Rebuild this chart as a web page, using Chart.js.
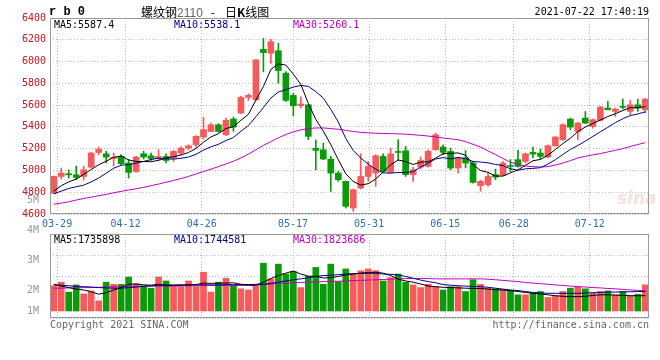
<!DOCTYPE html>
<html>
<head>
<meta charset="utf-8">
<script src="https://cdn.jsdelivr.net/npm/chart.js@4.4.0/dist/chart.umd.min.js"></script>
<style>
  body { margin: 0; background: #fff; }
  #wrap { position: relative; width: 660px; height: 360px; overflow: hidden; background: #fff; }
  canvas { position: absolute; left: 0; }
  .t { position: absolute; white-space: nowrap; font: 10px 'DejaVu Sans Mono', monospace; line-height: 10px; }
</style>
</head>
<body>
<div id="wrap">
  <div class="t" style="left:617px;top:190px;font:italic bold 17px 'DejaVu Sans',sans-serif;line-height:17px;color:rgba(225,150,150,0.3)">sina</div>
  <canvas id="kChart" width="660" height="232" style="top:0"></canvas>
  <canvas id="volChart" width="660" height="170" style="top:190px"></canvas>

  <div class="t" style="left:49px;top:6px;font:bold 12px 'Liberation Mono',monospace;line-height:12px">r b 0</div>
  <div class="t" style="left:141px;top:5px;font:12px 'Noto Sans CJK SC',sans-serif;line-height:13px">螺纹钢<span style="color:#666;font-family:'Liberation Sans',sans-serif">2110</span><span style="margin:0 10px 0 8px">-</span>日<b>K</b>线图</div>
  <div class="t" style="right:11px;top:7px">2021-07-22 17:40:19</div>

  <div class="t" style="left:54px;top:20px;color:#000">MA5:5587.4</div>
  <div class="t" style="left:174px;top:20px;color:#000090">MA10:5538.1</div>
  <div class="t" style="left:293px;top:20px;color:#c000c0">MA30:5260.1</div>

  <div class="t" style="left:54px;top:235px;color:#000">MA5:1735898</div>
  <div class="t" style="left:174px;top:235px;color:#000090">MA10:1744581</div>
  <div class="t" style="left:293px;top:235px;color:#c000c0">MA30:1823686</div>

  <div class="t" style="left:50px;top:320px;color:#666">Copyright 2021 SINA.COM</div>
  <div class="t" style="right:11px;top:320px;color:#666">http://finance.sina.com.cn</div>
</div>

<script>
// 交易日 (rb0, 日K)
const days = [
  '03-26','03-29','03-30','03-31','04-01','04-02','04-06','04-07','04-08','04-09',
  '04-12','04-13','04-14','04-15','04-16','04-19','04-20','04-21','04-22','04-23',
  '04-26','04-27','04-28','04-29','04-30','05-06','05-07','05-10','05-11','05-12',
  '05-13','05-14','05-17','05-18','05-19','05-20','05-21','05-24','05-25','05-26',
  '05-27','05-28','05-31','06-01','06-02','06-03','06-04','06-07','06-08','06-09',
  '06-10','06-11','06-15','06-16','06-17','06-18','06-21','06-22','06-23','06-24',
  '06-25','06-28','06-29','06-30','07-01','07-02','07-05','07-06','07-07','07-08',
  '07-09','07-12','07-13','07-14','07-15','07-16','07-19','07-20','07-21','07-22'
];
const gridDays = ['03-29', '04-12', '04-26', '05-17', '05-31', '06-15', '06-28', '07-12'];

const open = [
  4790,4945,4970,4960,4945,5031,5165,5153,5110,5129,
  5068,4990,5153,5135,5110,5129,5114,5160,5205,5236,
  5307,5358,5420,5328,5472,5527,5671,5650,6113,6076,
  6100,5893,5689,5595,5603,5204,5190,5104,4976,4900,
  4655,4838,4945,4976,5129,4982,5170,5181,4961,5031,
  5037,5190,5215,5175,5022,5114,5068,4860,4869,4961,
  4955,5045,5099,5083,5166,5160,5123,5227,5282,5472,
  5358,5481,5404,5460,5573,5542,5585,5542,5603,5557
];
const high = [
  4950,5022,5006,5040,5040,5165,5215,5175,5160,5145,
  5099,5129,5178,5160,5190,5153,5184,5220,5236,5320,
  5487,5435,5430,5481,5490,5680,5704,6020,6213,6205,
  6168,5909,5710,5675,5603,5280,5251,5129,4991,4900,
  4829,5153,5083,5144,5153,5205,5282,5221,5031,5123,
  5190,5343,5236,5205,5123,5184,5083,4909,4976,5013,
  5083,5100,5184,5160,5215,5196,5236,5313,5429,5481,
  5441,5542,5472,5588,5634,5573,5655,5643,5655,5664
];
const low = [
  4785,4921,4930,4915,4910,5022,5144,5068,5040,5053,
  4930,4982,5105,5092,5092,5068,5083,5145,5190,5215,
  5288,5355,5350,5319,5358,5521,5643,5640,5905,5984,
  5800,5634,5502,5575,5282,5005,5098,4808,4900,4655,
  4624,4829,4900,4854,4982,4976,5092,4945,4900,5016,
  5031,5184,5144,5007,4976,5022,4884,4808,4854,4915,
  4951,4990,5031,5068,5114,5105,5117,5221,5276,5374,
  5282,5429,5389,5454,5557,5496,5564,5512,5542,5527
];
const close = [
  4945,4976,4960,4936,5006,5160,5196,5123,5120,5062,
  4982,5123,5123,5110,5128,5092,5175,5205,5227,5313,
  5374,5420,5358,5460,5398,5671,5690,6015,6082,6183,
  5917,5643,5594,5610,5313,5184,5105,4976,4915,4670,
  4823,4945,5037,5135,4991,5153,5165,4961,5007,5092,
  5175,5328,5166,5022,5114,5068,4890,4900,4945,4939,
  5068,5037,5037,5153,5150,5129,5227,5307,5420,5398,
  5435,5435,5466,5582,5557,5564,5580,5603,5573,5655
];

// 均线
const ma5 = [
  4810,4860,4895,4920,4965,5008,5052,5084,5121,5132,
  5097,5082,5082,5080,5093,5115,5126,5142,5165,5202,
  5259,5308,5338,5385,5402,5461,5515,5647,5771,5928,
  5978,5968,5884,5790,5616,5469,5361,5238,5099,4970,
  4898,4866,4878,4922,4986,5052,5096,5081,5055,5076,
  5080,5113,5154,5157,5161,5140,5052,4999,4983,4948,
  4948,4978,5005,5047,5089,5101,5139,5193,5247,5296,
  5357,5399,5431,5463,5495,5521,5550,5577,5575,5587
];
const ma10 = [
  4785,4810,4835,4850,4865,4895,4930,4975,5020,5048,
  5053,5067,5083,5100,5113,5106,5104,5112,5123,5148,
  5187,5217,5240,5275,5302,5360,5412,5493,5578,5665,
  5720,5742,5766,5781,5772,5724,5665,5561,5445,5293,
  5184,5114,5058,5011,4978,4975,4981,4980,4989,5031,
  5066,5105,5118,5106,5119,5110,5083,5077,5070,5055,
  5044,5015,5002,5015,5019,5025,5059,5099,5147,5193,
  5229,5269,5312,5355,5396,5439,5475,5504,5519,5538
];
const ma30 = [
  4690,4700,4712,4728,4742,4755,4768,4780,4795,4808,
  4820,4832,4845,4860,4875,4892,4908,4925,4945,4968,
  4990,5012,5035,5060,5085,5115,5150,5190,5230,5265,
  5300,5330,5355,5372,5385,5390,5390,5385,5378,5368,
  5358,5350,5345,5342,5340,5338,5336,5333,5328,5322,
  5316,5308,5298,5290,5282,5265,5240,5215,5180,5145,
  5110,5075,5055,5040,5035,5032,5035,5050,5068,5090,
  5115,5130,5143,5155,5170,5185,5200,5220,5238,5255
];

// 成交量
const volume = [
  2160000,2280000,1950000,2190000,1890000,1990000,1660000,2280000,2210000,2210000,
  2450000,2230000,2160000,2080000,2450000,2320000,2130000,2130000,2320000,2130000,
  2610000,1950000,2280000,2410000,2170000,2060000,2020000,2160000,2910000,2390000,
  2880000,2550000,2630000,2100000,2470000,2770000,2210000,2880000,2300000,2720000,
  2550000,2660000,2720000,2660000,2320000,2430000,2550000,2280000,2190000,2100000,
  2210000,2130000,2020000,2130000,2130000,1970000,2360000,2210000,2080000,2060000,
  2020000,2000000,1860000,1860000,1910000,1970000,1770000,1830000,1970000,2080000,
  2130000,2060000,1910000,1970000,1990000,1860000,1970000,1830000,1880000,2190000
];
const volMa5 = [
  2210000,2150000,2100000,2050000,2020000,1960000,1880000,1930000,2020000,2100000,
  2210000,2220000,2190000,2180000,2210000,2170000,2170000,2180000,2190000,2200000,
  2250000,2240000,2250000,2250000,2260000,2210000,2190000,2180000,2280000,2400000,
  2500000,2580000,2650000,2550000,2480000,2470000,2420000,2430000,2470000,2520000,
  2550000,2580000,2600000,2610000,2580000,2500000,2380000,2320000,2280000,2220000,
  2150000,2130000,2110000,2100000,2090000,2080000,2070000,2070000,2050000,2030000,
  2020000,2000000,1970000,1940000,1910000,1890000,1860000,1830000,1810000,1800000,
  1800000,1810000,1840000,1860000,1860000,1850000,1840000,1830000,1830000,1830000
];
const volMa10 = [
  2190000,2180000,2160000,2140000,2130000,2120000,2100000,2090000,2080000,2080000,
  2100000,2120000,2140000,2160000,2170000,2190000,2190000,2190000,2190000,2190000,
  2190000,2190000,2190000,2200000,2200000,2200000,2200000,2210000,2210000,2240000,
  2280000,2320000,2360000,2390000,2430000,2470000,2500000,2510000,2530000,2550000,
  2560000,2570000,2580000,2570000,2550000,2540000,2520000,2470000,2410000,2350000,
  2300000,2260000,2200000,2180000,2160000,2150000,2140000,2130000,2110000,2080000,
  2050000,2020000,2000000,1970000,1940000,1920000,1910000,1910000,1910000,1910000,
  1910000,1920000,1930000,1940000,1950000,1950000,1960000,1960000,1970000,1970000
];
const volMa30 = [
  2080000,2080000,2090000,2090000,2100000,2100000,2110000,2120000,2130000,2130000,
  2140000,2140000,2140000,2150000,2150000,2150000,2150000,2160000,2160000,2160000,
  2170000,2170000,2170000,2170000,2170000,2170000,2170000,2180000,2200000,2220000,
  2240000,2250000,2260000,2270000,2280000,2290000,2300000,2310000,2310000,2320000,
  2330000,2340000,2350000,2360000,2370000,2380000,2390000,2400000,2400000,2400000,
  2400000,2390000,2390000,2390000,2390000,2390000,2390000,2390000,2380000,2360000,
  2340000,2320000,2300000,2270000,2250000,2230000,2210000,2190000,2170000,2150000,
  2130000,2120000,2100000,2090000,2070000,2060000,2040000,2020000,2010000,1990000
];
const volTickLabels = [5000000, 4000000, 3000000, 2000000, 1000000];

// 颜色
const UP = '#f65a5a';
const DOWN = '#0a9a0a';
const GRID = '#b8b8b8';
const MONO = { family: "'DejaVu Sans Mono', monospace", size: 10 };

// volume panel: 30px per million, bars stand on VOL_BASE
const VOL_MIN = 1090000, VOL_MAX = 3880000, VOL_BASE = 1323000;

const candleColors = close.map((c, i) => c >= open[i] ? UP : DOWN);
const gridIdx = gridDays.map(d => days.indexOf(d));
// sina spaces its date grid a bit wider than the bars
const gridPos = gridIdx.map(i => 0.45 + (i - 1) * 1.0163);

const framePlugin = {
  id: 'frame',
  afterDatasetsDraw(chart) {
    const a = chart.chartArea, ctx = chart.ctx;
    ctx.save();
    ctx.strokeStyle = '#9a9a9a';
    ctx.lineWidth = 1;
    ctx.strokeRect(a.left + 0.5, a.top + 0.5, a.right - a.left - 1, a.bottom - a.top - 1);
    ctx.restore();
  }
};

function xAxis(showLabels) {
  return {
    type: 'linear',
    min: -0.5,
    max: days.length - 0.5,
    offset: false,
    afterBuildTicks: s => { s.ticks = gridPos.map(v => ({ value: v })); },
    grid: { color: GRID, drawTicks: false, offset: false },
    border: { display: false, dash: [1, 2] },
    ticks: {
      display: showLabels, color: '#2a6fb3', font: MONO, padding: 4,
      maxRotation: 0, autoSkip: false,
      callback: (v, i) => gridDays[i]
    },
    afterFit: s => { s.height = showLabels ? 18 : 0; }
  };
}

function maLine(values, color) {
  return {
    type: 'line',
    data: values.map((v, i) => ({ x: i, y: v })),
    borderColor: color,
    borderWidth: 1,
    pointRadius: 0,
    tension: 0,
    order: 1
  };
}

new Chart(document.getElementById('kChart'), {
  type: 'bar',
  data: {
    datasets: [
      {
        // 影线
        data: low.map((l, i) => ({ x: i, y: [l, high[i]] })),
        backgroundColor: candleColors,
        barThickness: 1,
        grouped: false,
        order: 3
      },
      {
        // 实体
        data: open.map((o, i) => ({ x: i, y: [o, close[i]] })),
        backgroundColor: candleColors,
        barThickness: 6,
        minBarLength: 1,
        grouped: false,
        order: 2
      },
      maLine(ma5, '#000000'),
      maLine(ma10, '#000090'),
      maLine(ma30, '#c000c0')
    ]
  },
  options: {
    responsive: false,
    animation: false,
    layout: { padding: { top: 18, right: 11, left: 0, bottom: 0 } },
    plugins: { legend: { display: false }, tooltip: { enabled: false } },
    scales: {
      x: xAxis(true),
      y: {
        min: 4600,
        max: 6400,
        ticks: { stepSize: 200, color: '#c0161c', font: MONO, padding: 4, callback: v => String(v) },
        grid: { color: GRID, drawTicks: false },
        border: { display: false, dash: [1, 2] },
        afterFit: s => { s.width = 50; }
      }
    }
  },
  plugins: [framePlugin]
});

new Chart(document.getElementById('volChart'), {
  type: 'bar',
  data: {
    datasets: [
      {
        data: volume.map((v, i) => ({ x: i, y: v })),
        backgroundColor: candleColors,
        base: VOL_BASE,
        barThickness: 6,
        order: 2
      },
      maLine(volMa5, '#000000'),
      maLine(volMa10, '#000090'),
      maLine(volMa30, '#c000c0')
    ]
  },
  options: {
    responsive: false,
    animation: false,
    layout: { padding: { top: 44, right: 11, left: 0, bottom: 42 } },
    plugins: { legend: { display: false }, tooltip: { enabled: false } },
    scales: {
      x: xAxis(false),
      y: {
        position: 'right',
        min: VOL_MIN,
        max: VOL_MAX,
        // grid splits the panel in quarters
        afterBuildTicks: s => {
          s.ticks = [0, 1, 2, 3, 4].map(k => ({ value: VOL_MIN + k * (VOL_MAX - VOL_MIN) / 4 }));
        },
        ticks: { display: false },
        grid: { color: GRID, drawTicks: false },
        border: { display: false, dash: [1, 2] },
        afterFit: s => { s.width = 0; }
      },
      yl: {
        position: 'left',
        min: VOL_MIN,
        max: VOL_MAX,
        // labels below the bar base are pinned onto it, like on sina
        afterBuildTicks: s => {
          s.ticks = volTickLabels.map(v => ({ value: Math.max(v, VOL_BASE) }));
        },
        ticks: {
          color: '#999', font: MONO, padding: 3,
          callback: v => Math.round(v / 1000000) + 'M'
        },
        grid: { display: false },
        border: { display: false },
        afterFit: s => { s.width = 50; }
      }
    }
  },
  plugins: [framePlugin]
});
</script>
</body>
</html>
